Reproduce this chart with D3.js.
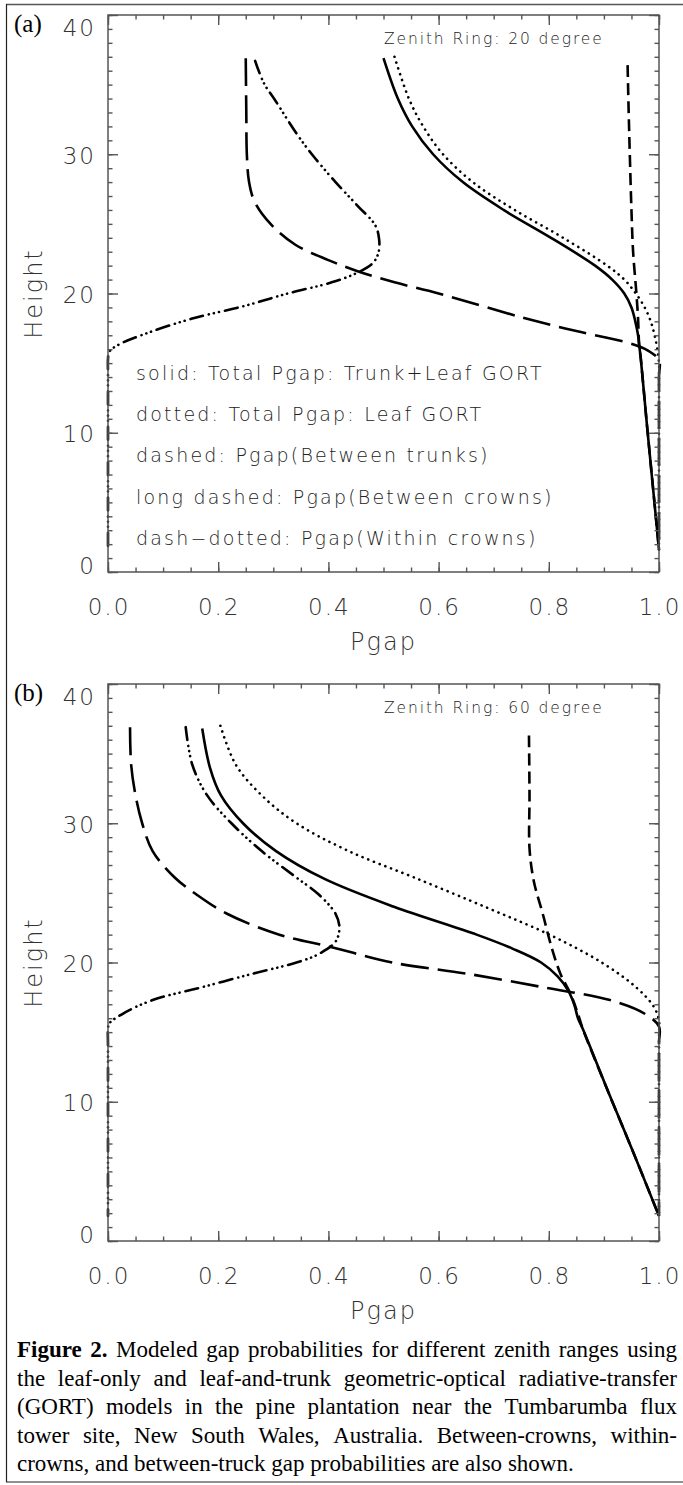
<!DOCTYPE html>
<html lang="en">
<head>
<meta charset="UTF-8">
<title>Modeled gap probabilities</title>
<style>
  body { margin: 0; background: #fff; }
  .tick-label { font-family: "DejaVu Sans", sans-serif; font-weight: 200; font-size: 23px; letter-spacing: 2px; fill: #333; }
  .axis-title { font-family: "DejaVu Sans", sans-serif; font-weight: 200; font-size: 24px; letter-spacing: 2px; fill: #333; }
  .note { font-family: "DejaVu Sans", sans-serif; font-weight: 200; fill: #222; }
  .panel-tag { font-family: "Liberation Serif", "Times New Roman", serif; font-size: 25px; fill: #000; }
  .caption { font-family: "Liberation Serif", "Times New Roman", serif; font-size: 23px; fill: #000; }
  .frame line, .box { stroke: #555; stroke-width: 1.5; fill: none; }
  .curve { fill: none; stroke: #000; stroke-width: 2.6; }
</style>
<script src="https://d3js.org/d3.v7.min.js"></script>
</head>
<body>
<div id="chart"></div>
<script>
// ---- data: [Pgap, Height] ----
const xTicks = [0, 0.2, 0.4, 0.6, 0.8, 1.0];
const yTicks = [0, 10, 20, 30, 40];
const zenithLabels = ["Zenith Ring: 20 degree", "Zenith Ring: 60 degree"];
const panelTags = ["(a)", "(b)"];
const legendLines = [
    "solid: Total Pgap: Trunk+Leaf GORT",
    "dotted: Total Pgap: Leaf GORT",
    "dashed: Pgap(Between trunks)",
    "long dashed: Pgap(Between crowns)",
    "dash\u2212dotted: Pgap(Within crowns)"
];

// panel (a), zenith 20
const solidA = [[0.500,36.9],[0.526,34],[0.552,32],[0.590,30],[0.644,28],[0.718,26],[0.804,24],[0.884,22],[0.915,21],[0.937,20],[0.950,19],[0.957,18],[0.962,17],[0.964,16.3],[0.967,15.3],[0.978,10.6],[0.989,6.1],[1.0,1.6]];
const dottedA = [[0.520,37.0],[0.546,34],[0.572,32],[0.608,30],[0.662,28],[0.738,26],[0.826,24],[0.906,22],[0.937,21],[0.958,20],[0.974,19],[0.985,18],[0.992,17],[0.997,16],[1.0,15.0],[1.0,14.0],[1.0,2.8],[1.0,1.6]];
const dashedA = [[0.943,36.4],[0.945,33],[0.947,30],[0.950,26],[0.953,23],[0.959,20],[0.962,18.2],[0.964,16.3],[0.967,15.3],[0.978,10.6],[0.989,6.1],[1.0,1.6]];
const longDashedA = [[0.250,36.9],[0.251,33],[0.252,30],[0.256,28],[0.266,26.6],[0.295,25],[0.340,23.5],[0.400,22.4],[0.453,21.6],[0.520,20.8],[0.600,20.0],[0.750,18.3],[0.850,17.3],[0.940,16.5],[0.980,15.9],[1.0,15.2],[1.0,14.0],[1.0,2.8],[1.0,1.6]];
const dashDotA = [[0.267,36.7],[0.283,35.1],[0.303,33.9],[0.342,31.5],[0.370,30],[0.413,28],[0.453,26.3],[0.485,24.9],[0.492,23.9],[0.491,22.95],[0.481,22.2],[0.453,21.5],[0.406,20.8],[0.326,20.0],[0.247,19.1],[0.153,18.2],[0.074,17.2],[0.018,16.3],[0.002,15.8],[0,15.3],[0,14.2],[0,2.8],[0,1.6]];

// panel (b), zenith 60
const solidB = [[0.171,36.8],[0.185,34],[0.205,32],[0.245,30],[0.305,28],[0.393,26],[0.519,24],[0.669,22],[0.734,21],[0.786,20],[0.816,19],[0.835,18],[0.846,17],[0.853,16],[0.862,15.2],[0.908,10.7],[0.954,6.3],[1.0,1.8]];
const dottedB = [[0.204,37.0],[0.232,34.2],[0.279,32],[0.342,30],[0.437,28],[0.556,26.1],[0.690,23.9],[0.801,22],[0.896,20],[0.959,18.2],[0.991,16.8],[1.0,15.8],[1.0,14.6],[1.0,3.0],[1.0,1.8]];
const dashedB = [[0.764,36.3],[0.765,32],[0.765,28.2],[0.773,25.8],[0.789,23.5],[0.805,21.1],[0.821,19.2],[0.840,17.7],[0.853,16.3],[0.862,15.2],[0.908,10.7],[0.954,6.3],[1.0,1.8]];
const longDashedB = [[0.040,36.9],[0.042,34.2],[0.050,32],[0.062,30],[0.081,28],[0.121,26.1],[0.160,24.9],[0.216,23.5],[0.311,22],[0.406,21.1],[0.516,20],[0.651,19.2],[0.793,18.2],[0.911,17.3],[0.975,16.3],[1.0,15.4],[1.0,14.2],[1.0,3.0],[1.0,1.8]];
const dashDotB = [[0.141,36.9],[0.153,34.2],[0.180,32],[0.224,30],[0.279,28],[0.342,26.1],[0.382,24.9],[0.413,23.5],[0.420,22.5],[0.413,21.5],[0.382,20.6],[0.342,20],[0.263,19.2],[0.168,18.2],[0.081,17.3],[0.026,16.3],[0.002,15.6],[0,15.2],[0,14.0],[0,3.0],[0,1.8]];

const captionLines = [
    "Figure 2. Modeled gap probabilities for different zenith ranges using",
    "the leaf-only and leaf-and-trunk geometric-optical radiative-transfer",
    "(GORT) models in the pine plantation near the Tumbarumba flux",
    "tower site, New South Wales, Australia. Between-crowns, within-",
    "crowns, and between-truck gap probabilities are also shown."
];

// ---- drawing ----
const width = 683, height = 1485;
const plotLeft = 108, plotRight = 659, plotH = 557;
const panelTops = [15, 684];

// line styles in series order: solid, dotted, dashed, long dashed, dash-dot-dot-dot
const styles = [
    {dash: null, cap: "butt"},
    {dash: "0.1,6", cap: "round"},
    {dash: "12,6", cap: "butt"},
    {dash: "28,9", cap: "butt"},
    {dash: "13,6,0.1,5,0.1,5,0.1,6", cap: "round"}
];
const panelSeries = [
    [solidA, dottedA, dashedA, longDashedA, dashDotA],
    [solidB, dottedB, dashedB, longDashedB, dashDotB]
];

const svg = d3.select("#chart").append("svg")
    .attr("width", width)
    .attr("height", height);

// outer frame
const frame = svg.append("g").attr("class", "frame");
frame.append("line").attr("x1", 6).attr("x2", 683).attr("y1", 4.5).attr("y2", 4.5);
frame.append("line").attr("x1", 6.5).attr("x2", 6.5).attr("y1", 4).attr("y2", 1482).style("stroke", "#222").style("stroke-width", 1.2);
frame.append("line").attr("x1", 6).attr("x2", 683).attr("y1", 1482).attr("y2", 1482).style("stroke", "#222").style("stroke-width", 1.2);

const x = d3.scaleLinear().domain([0, 1]).range([plotLeft, plotRight]);

panelTops.forEach((top, pi) => {
    const bottom = top + plotH;
    const y = d3.scaleLinear().domain([0, 40]).range([bottom, top]);
    const g = svg.append("g");

    // curves
    const line = d3.line()
        .x(d => x(d[0]))
        .y(d => y(d[1]))
        .curve(d3.curveCatmullRom.alpha(0.5));
    panelSeries[pi].forEach((s, si) => {
        g.append("path")
            .datum(s)
            .attr("class", "curve")
            .attr("d", line)
            .attr("stroke-dasharray", styles[si].dash)
            .attr("stroke-linecap", styles[si].cap);
    });

    // axes: ticks on all four sides, pointing inward
    const tickGrey = "#555";
    const minorX = d3.range(0, 1.0001, 0.05), minorY = d3.range(0, 41, 1);
    const axes = [
        g.append("g").attr("transform", `translate(0,${bottom})`)
            .call(d3.axisTop(x).tickValues(minorX).tickSize(4.5).tickFormat("")),
        g.append("g").attr("transform", `translate(0,${top})`)
            .call(d3.axisBottom(x).tickValues(minorX).tickSize(4.5).tickFormat("")),
        g.append("g").attr("transform", `translate(0,${bottom})`)
            .call(d3.axisTop(x).tickValues(xTicks).tickSize(10).tickFormat("")),
        g.append("g").attr("transform", `translate(0,${top})`)
            .call(d3.axisBottom(x).tickValues(xTicks).tickSize(10).tickFormat("")),
        g.append("g").attr("transform", `translate(${plotLeft},0)`)
            .call(d3.axisRight(y).tickValues(minorY).tickSize(4.5).tickFormat("")),
        g.append("g").attr("transform", `translate(${plotRight},0)`)
            .call(d3.axisLeft(y).tickValues(minorY).tickSize(4.5).tickFormat("")),
        g.append("g").attr("transform", `translate(${plotLeft},0)`)
            .call(d3.axisRight(y).tickValues(yTicks).tickSize(10).tickFormat("")),
        g.append("g").attr("transform", `translate(${plotRight},0)`)
            .call(d3.axisLeft(y).tickValues(yTicks).tickSize(10).tickFormat(""))
    ];
    axes.forEach(a => {
        a.select(".domain").remove();
        a.selectAll("line").attr("stroke", tickGrey).attr("stroke-width", 1.4);
    });
    g.append("rect")
        .attr("class", "box")
        .attr("x", plotLeft).attr("y", top)
        .attr("width", plotRight - plotLeft).attr("height", plotH);

    // tick labels
    g.selectAll(".xl").data(xTicks).join("text")
        .attr("class", "tick-label")
        .attr("x", d => x(d) + 1)
        .attr("y", bottom + 42.5)
        .attr("text-anchor", "middle")
        .text(d => d3.format(".1f")(d));
    g.selectAll(".yl").data(yTicks).join("text")
        .attr("class", "tick-label")
        .attr("x", plotLeft - 12)
        .attr("y", d => Math.min(Math.max(y(d) + 1, top + 12), bottom - 7) + 8.5)
        .attr("text-anchor", "end")
        .text(d => d);

    // axis titles
    g.append("text")
        .attr("class", "axis-title")
        .attr("x", (plotLeft + plotRight) / 2)
        .attr("y", bottom + 77.5)
        .attr("text-anchor", "middle")
        .text("Pgap");
    g.append("text")
        .attr("class", "axis-title")
        .attr("transform", `translate(42,${(top + bottom) / 2}) rotate(-90)`)
        .attr("text-anchor", "middle")
        .text("Height");

    // panel tag and zenith note
    g.append("text")
        .attr("class", "panel-tag")
        .attr("x", 14)
        .attr("y", top + 17)
        .text(panelTags[pi]);
    g.append("text")
        .attr("class", "note")
        .attr("x", 384)
        .attr("y", top + 29)
        .style("font-size", "15.5px")
        .style("letter-spacing", "1.9px")
        .text(zenithLabels[pi]);

    // legend (only in panel a)
    if (pi === 0) {
        g.selectAll(".leg").data(legendLines).join("text")
            .attr("class", "note")
            .attr("x", 136)
            .attr("y", (d, i) => 380 + i * 41.2)
            .style("font-size", "19px")
            .style("letter-spacing", "2.2px")
            .text(d => d);
    }
});

// caption, justified like the printed figure
const capLeft = 17, capRight = 677, capBase = 1357, capStep = 28.5;
captionLines.forEach((ln, li) => {
    const words = ln.split(" ");
    const tg = svg.append("g");
    const nodes = words.map((w, wi) => {
        const t = tg.append("text")
            .attr("class", "caption")
            .attr("y", capBase + li * capStep)
            .text(w);
        if (li === 0 && wi < 2) t.style("font-weight", "bold");
        return t;
    });
    const lens = nodes.map(n => n.node().getComputedTextLength());
    const total = d3.sum(lens);
    const last = li === captionLines.length - 1;
    const gap = last ? 5.8 : (capRight - capLeft - total) / (words.length - 1);
    let cx = capLeft;
    nodes.forEach((n, i) => {
        n.attr("x", cx);
        cx += lens[i] + gap;
    });
});
</script>
</body>
</html>
